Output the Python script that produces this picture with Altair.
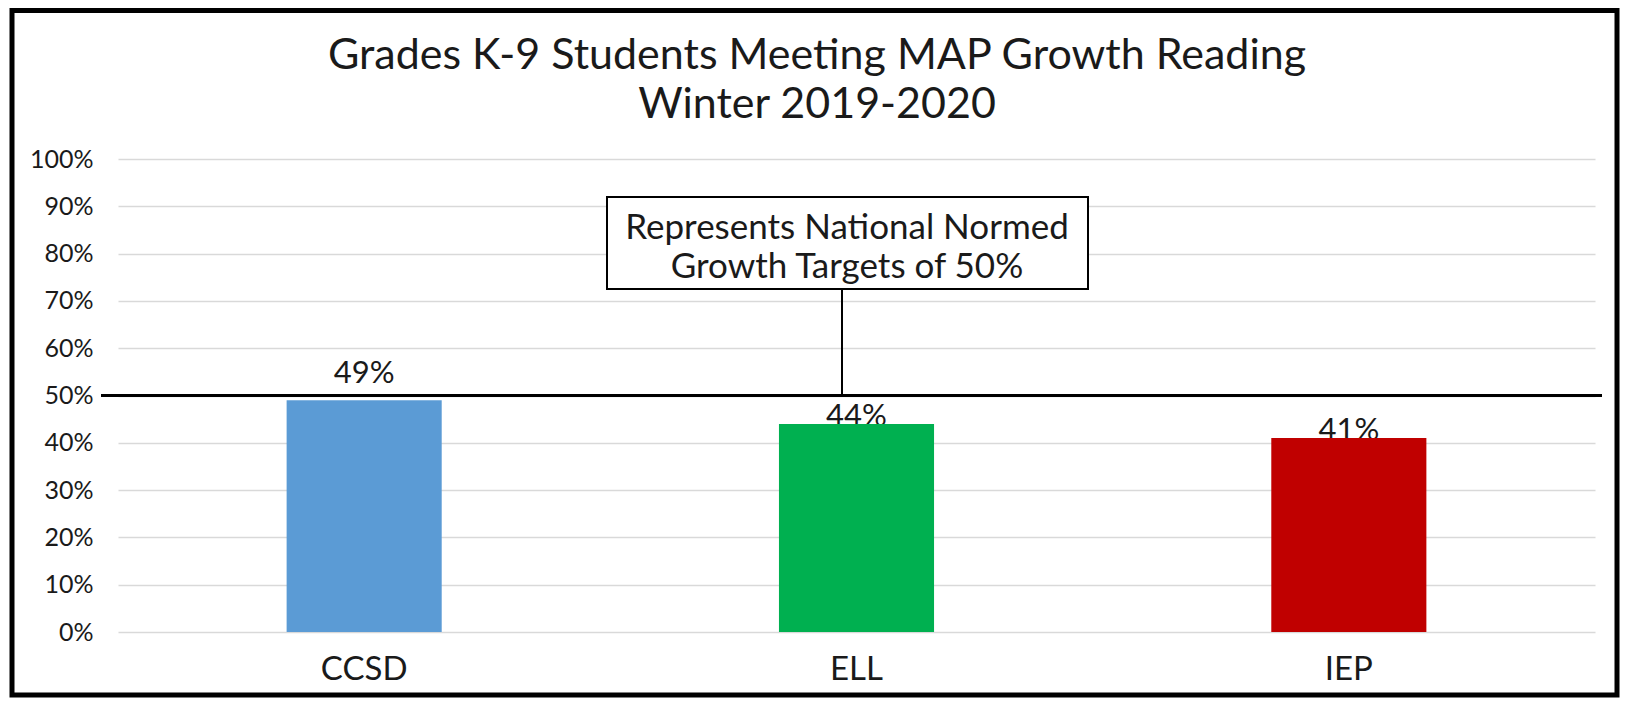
import altair as alt
import pandas as pd

# ---- data ----
categories = ["CCSD", "ELL", "IEP"]
values = [49, 44, 41]
colors = ["#5B9BD5", "#00B050", "#C00000"]
target = [50]
title_lines = ["Grades K-9 Students Meeting MAP Growth Reading", "Winter 2019-2020"]
annotation_lines = ["Represents National Normed", "Growth Targets of 50%"]
y_ticks = list(range(0, 101, 10))

df = pd.DataFrame({"group": categories, "value": values,
                   "label": [f"{v}%" for v in values]})
tdf = pd.DataFrame({"target": target})

FONT = "Lato"
W, H = 1477, 473
TXT = "#1a1a1a"

x_enc = alt.X("group:N", sort=categories,
              scale=alt.Scale(paddingInner=0.685, paddingOuter=0.3425),
              axis=alt.Axis(title=None, labelAngle=0, labelAlign="center",
                            labelFontSize=33, labelPadding=37, labelColor=TXT,
                            domain=False, ticks=False, labelFont=FONT,
                            grid=False))
y_enc = alt.Y("value:Q", scale=alt.Scale(domain=[0, 100], nice=False),
              axis=alt.Axis(title=None, values=y_ticks,
                            labelExpr="datum.value + '%'", labelFontSize=25,
                            labelPadding=25, labelFont=FONT, domain=False,
                            ticks=False, gridColor="#d9d9d9", gridWidth=1.5,
                            labelColor=TXT))

base = alt.Chart(df)

labels_low = base.transform_filter(f"datum.value < {target[0]} - 3").mark_text(
    baseline="alphabetic", fontSize=31, font=FONT, color=TXT, dy=2
).encode(x=alt.X("group:N", sort=categories), y="value:Q", text="label:N")

labels_high = base.transform_filter(f"datum.value >= {target[0]} - 3").mark_text(
    baseline="alphabetic", fontSize=31, font=FONT, color=TXT, dy=-17
).encode(x=alt.X("group:N", sort=categories), y="value:Q", text="label:N")

bars = base.mark_bar().encode(
    x=x_enc, y=y_enc,
    color=alt.Color("group:N", scale=alt.Scale(domain=categories, range=colors),
                    legend=None),
)

tbase = alt.Chart(tdf)
target_rule = tbase.mark_rule(color="black", strokeWidth=3).encode(
    y=alt.Y("target:Q"), x=alt.value(-17), x2=alt.value(W + 7))

connector = tbase.mark_rule(color="black", strokeWidth=2).encode(
    x=alt.value(724), y=alt.Y("target:Q"), y2=alt.value(130))

box = tbase.mark_rect(fill="white", stroke="black", strokeWidth=2).encode(
    x=alt.value(489), x2=alt.value(970), y=alt.value(38), y2=alt.value(130))

box_text = tbase.mark_text(baseline="alphabetic", align="center", fontSize=35,
                           font=FONT, color=TXT, lineHeight=38.7).encode(
    x=alt.value(729), y=alt.value(80), text=alt.value(annotation_lines))

title_text = tbase.mark_text(baseline="alphabetic", align="center", fontSize=43,
                             font=FONT, color=TXT, lineHeight=49).encode(
    x=alt.value(699), y=alt.value(-90), text=alt.value(title_lines))

border = tbase.mark_rect(fill=None, stroke="black", strokeWidth=5).encode(
    x=alt.value(-106), x2=alt.value(1499), y=alt.value(-148.5),
    y2=alt.value(536))

chart = alt.layer(
    labels_low, labels_high, bars, target_rule, connector, box, box_text,
    title_text, border
).properties(
    width=W, height=H,
    autosize=alt.AutoSizeParams(type="none"),
    padding={"left": 110, "top": 151, "right": 25, "bottom": 66},
).configure_view(stroke=None)

chart.save("out.html", embed_options={"renderer": "svg", "actions": False})
